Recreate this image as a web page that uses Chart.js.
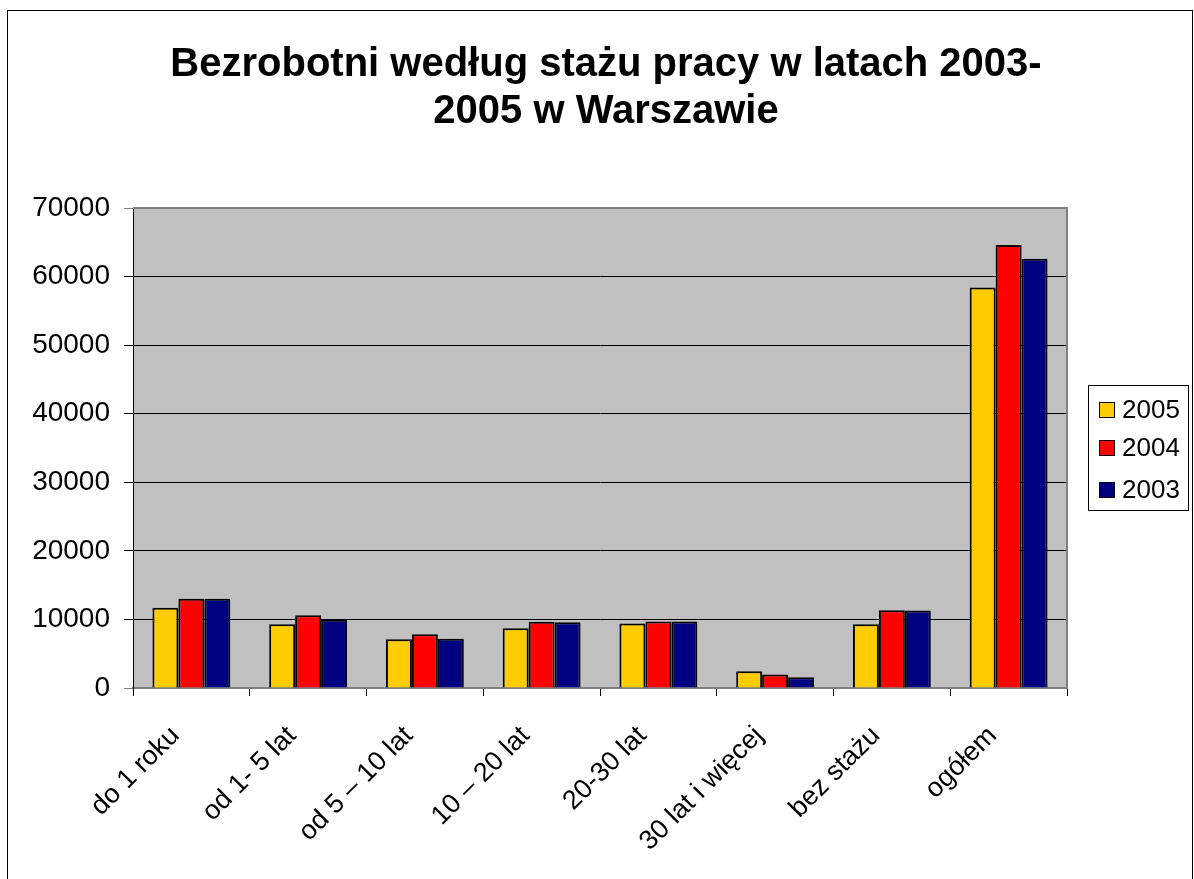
<!DOCTYPE html>
<html>
<head>
<meta charset="utf-8">
<script src="https://cdn.jsdelivr.net/npm/chart.js@4.4.0/dist/chart.umd.min.js"></script>
<style>
html,body{margin:0;padding:0;background:#fff;}
#wrap{position:absolute;left:0;top:0;width:1194px;height:879px;}
</style>
</head>
<body>
<div id="wrap"><canvas id="c" width="1194" height="879"></canvas></div>
<script>
const categories = ["do 1 roku", "od 1- 5 lat", "od 5 \u2013 10 lat", "10 \u2013 20 lat", "20-30 lat", "30 lat i wi\u0119cej", "bez sta\u017cu", "og\u00f3\u0142em"];
const values2005 = [11700, 9300, 7100, 8700, 9400, 2450, 9300, 58400];
const values2004 = [13000, 10600, 7850, 9650, 9700, 1970, 11350, 64600];
const values2003 = [13000, 9950, 7200, 9600, 9700, 1580, 11300, 62600];
const seriesLabels = ["2005", "2004", "2003"];
const titleLines = ["Bezrobotni wed\u0142ug sta\u017cu pracy w latach 2003-", "2005 w Warszawie"];

const FONT = "'Liberation Sans', Arial, sans-serif";

const decor = {
  id: 'decor',
  beforeDraw(chart) {
    const c = chart.ctx, a = chart.chartArea;
    c.save();
    c.fillStyle = '#fff';
    c.fillRect(0, 0, chart.width, chart.height);
    c.strokeStyle = '#000';
    c.lineWidth = 1;
    c.strokeRect(7.5, 10.5, 1185, 900);
    c.fillStyle = '#C0C0C0';
    c.fillRect(a.left, a.top, a.right - a.left, a.bottom - a.top);
    c.restore();
  },
  afterDatasetsDraw(chart) {
    const c = chart.ctx, a = chart.chartArea;
    c.save();
    c.strokeStyle = '#808080';
    c.lineWidth = 2;
    c.beginPath();
    c.moveTo(a.left, a.top); c.lineTo(a.right, a.top); c.lineTo(a.right, a.bottom);
    c.stroke();
    c.restore();
  },
  afterDraw(chart) {
    const c = chart.ctx;
    c.save();
    // title
    c.fillStyle = '#000';
    c.font = "bold 40px " + FONT;
    c.textAlign = 'center';
    c.textBaseline = 'alphabetic';
    c.fillText(titleLines[0], 606, 76);
    c.fillText(titleLines[1], 606, 123);
    // legend
    c.strokeStyle = '#000';
    c.lineWidth = 1;
    c.strokeRect(1088.5, 385.5, 100, 125);
    const ys = [410, 448, 490];
    c.font = "26px " + FONT;
    c.textAlign = 'left';
    c.textBaseline = 'middle';
    chart.data.datasets.forEach((ds, i) => {
      c.fillStyle = ds.backgroundColor;
      c.fillRect(1099, ys[i] - 8, 16, 16);
      c.strokeRect(1099.5, ys[i] - 7.5, 15, 15);
      c.fillStyle = '#000';
      c.fillText(ds.label, 1122, ys[i] + 1);
    });
    c.restore();
  }
};

new Chart(document.getElementById('c'), {
  type: 'bar',
  data: {
    labels: categories,
    datasets: [
      { label: seriesLabels[0], data: values2005, backgroundColor: '#FFCC00', borderColor: '#000', borderWidth: 2 },
      { label: seriesLabels[1], data: values2004, backgroundColor: '#FF0000', borderColor: '#000', borderWidth: 2 },
      { label: seriesLabels[2], data: values2003, backgroundColor: '#000080', borderColor: '#000', borderWidth: 2 }
    ]
  },
  options: {
    responsive: false,
    animation: false,
    devicePixelRatio: 1,
    layout: { padding: { top: 208, right: 127, left: 0, bottom: 0 } },
    datasets: { bar: { categoryPercentage: 0.667, barPercentage: 1.0 } },
    plugins: { legend: { display: false }, title: { display: false }, tooltip: { enabled: false } },
    scales: {
      x: {
        offset: true,
        afterFit(s) { s.height = 191; },
        grid: { display: true, drawOnChartArea: false, offset: true, tickLength: 8, color: '#000' },
        border: { display: true, color: '#808080', width: 2 },
        ticks: { minRotation: 45, maxRotation: 45, autoSkip: false, color: '#000', font: { family: FONT, size: 27 }, padding: 24, labelOffset: -16 }
      },
      y: {
        min: 0, max: 70000,
        afterFit(s) { s.width = 133; },
        grid: { color: (ctx) => (ctx.tick && (ctx.tick.value === 70000 || ctx.tick.value === 0)) ? '#808080' : '#000', tickLength: 9, lineWidth: 1 },
        border: { display: true, color: '#000', width: 1 },
        ticks: { stepSize: 10000, color: '#000', font: { family: FONT, size: 28 }, padding: 14, callback: (v) => String(v) }
      }
    }
  },
  plugins: [decor]
});
</script>
</body>
</html>
